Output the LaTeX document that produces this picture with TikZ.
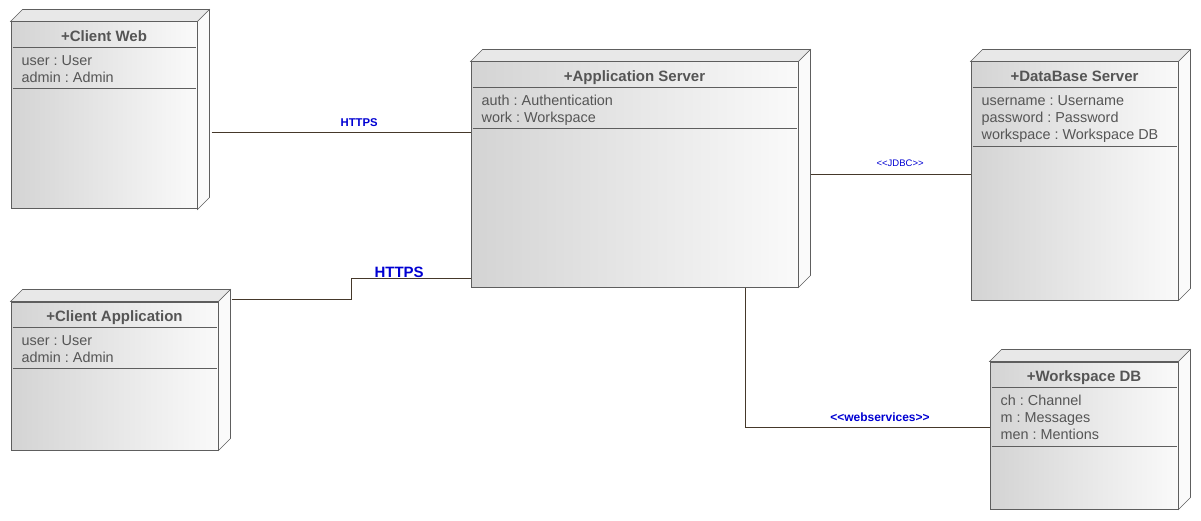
\documentclass[tikz,border=0pt]{standalone}
\usepackage{fontspec}
\setmainfont{Liberation Sans}[Ligatures=TeXOff]
\usepackage{xcolor}
\definecolor{umlGray}{HTML}{555555}
\definecolor{umlEdge}{HTML}{5E5E5E}
\definecolor{umlLink}{HTML}{45382A}
\definecolor{umlBlue}{HTML}{0000D2}
\usetikzlibrary{calc}
\frenchspacing
\tikzset{
    umlnode/.style={rectangle,draw=umlEdge,line width=1pt,inner sep=0pt,left color=black!17,right color=black!2},
    topface/.style={draw=umlEdge,line width=0.6pt,fill=black!9},
    sideface/.style={draw=umlEdge,line width=0.6pt,fill=black!2},
    umlline/.style={draw=umlEdge,line width=0.9pt},
    nodeTitle/.style={font=\fontsize{15}{18}\selectfont\bfseries,text=umlGray,inner sep=0pt,anchor=base},
    nodeAttr/.style={font=\fontsize{14.4}{17}\selectfont,text=umlGray,inner sep=0pt,anchor=base west},
    link/.style={draw=umlLink,line width=1pt},
    linkLbl/.style={text=umlBlue,inner sep=0pt,anchor=base}
}

\begin{document}
\begin{tikzpicture}[x=1pt, y=-1pt]
  \useasboundingbox (0,0) rectangle (1201,521);

  % front faces of the nodes
  \node[umlnode, minimum width=186pt, minimum height=187pt] (web)  at (104,115.5)   {};
  \node[umlnode, minimum width=207pt, minimum height=148pt] (capp) at (114.5,376)   {};
  \node[umlnode, minimum width=327pt, minimum height=225pt] (app)  at (634.5,174.5) {};
  \node[umlnode, minimum width=207pt, minimum height=238pt] (db)   at (1074.5,181)  {};
  \node[umlnode, minimum width=188pt, minimum height=147pt] (wsdb) at (1084,435.5)  {};

  % depth faces + compartment lines (\s = separator below the attributes)
  \foreach \n/\s in {web/67, capp/67, app/67, db/85, wsdb/85} {
    \draw[topface] (\n.north west) -- ++(12,-12) -- ($(\n.north east)+(12,-12)$) -- (\n.north east) -- cycle;
    \draw[sideface] (\n.north east) -- ++(12,-12) -- ($(\n.south east)+(12,-12)$) -- (\n.south east) -- cycle;
    \draw[umlline] ($(\n.north west)+(2,26)$) -- ($(\n.north east)+(-2,26)$);
    \draw[umlline] ($(\n.north west)+(2,\s)$) -- ($(\n.north east)+(-2,\s)$);
  }

  % titles
  \node[nodeTitle] (web-t)  at ($(web.north)+(0,20)$)  {+Client Web};
  \node[nodeTitle] (capp-t) at ($(capp.north)+(0,20)$) {+Client Application};
  \node[nodeTitle] (app-t)  at ($(app.north)+(0,20)$)  {+Application Server};
  \node[nodeTitle] (db-t)   at ($(db.north)+(0,20)$)   {+DataBase Server};
  \node[nodeTitle] (wsdb-t) at ($(wsdb.north)+(0,20)$) {+Workspace DB};

  % attributes
  \foreach \a [count=\i] in {user : User, admin : Admin}
    \node[nodeAttr] (web-a\i) at ($(web.north west)+(11,27+17*\i)$) {\a};
  \foreach \a [count=\i] in {user : User, admin : Admin}
    \node[nodeAttr] (capp-a\i) at ($(capp.north west)+(11,27+17*\i)$) {\a};
  \foreach \a [count=\i] in {auth : Authentication, work : Workspace}
    \node[nodeAttr] (app-a\i) at ($(app.north west)+(11,27+17*\i)$) {\a};
  \foreach \a [count=\i] in {username : Username, password : Password, workspace : Workspace DB}
    \node[nodeAttr] (db-a\i) at ($(db.north west)+(11,27+17*\i)$) {\a};
  \foreach \a [count=\i] in {ch : Channel, m : Messages, men : Mentions}
    \node[nodeAttr] (wsdb-a\i) at ($(wsdb.north west)+(11,27+17*\i)$) {\a};

  % connectors
  \coordinate (webOut) at ($(web.east)+(14,17.5)$);
  \draw[link] (webOut) -- (webOut -| app.west)
    node[linkLbl, pos=.57, yshift=6pt, font=\fontsize{11.3}{13}\selectfont\bfseries] (lbl1) {HTTPS};

  \draw[link] ($(capp.north east)+(13,-2)$) -- ++(120,0) |- ($(app.south west)+(0,-9)$)
    node[linkLbl, pos=.7, yshift=1.5pt, font=\fontsize{15}{18}\selectfont\bfseries] (lbl2) {HTTPS};

  \coordinate (appOut) at ($(app.east)+(12,0.5)$);
  \draw[link] (appOut) -- (appOut -| db.west)
    node[linkLbl, pos=.56, yshift=8.5pt, font=\fontsize{9.5}{11}\selectfont] (lbl3) {<<JDBC>>};

  \draw[link] ($(app.south)+(110.5,0)$) |- ($(wsdb.west)+(0,-8.5)$)
    node[linkLbl, pos=.776, yshift=5.5pt, font=\fontsize{12}{14}\selectfont\bfseries] (lbl4) {<<webservices>>};

\end{tikzpicture}
\end{document}
